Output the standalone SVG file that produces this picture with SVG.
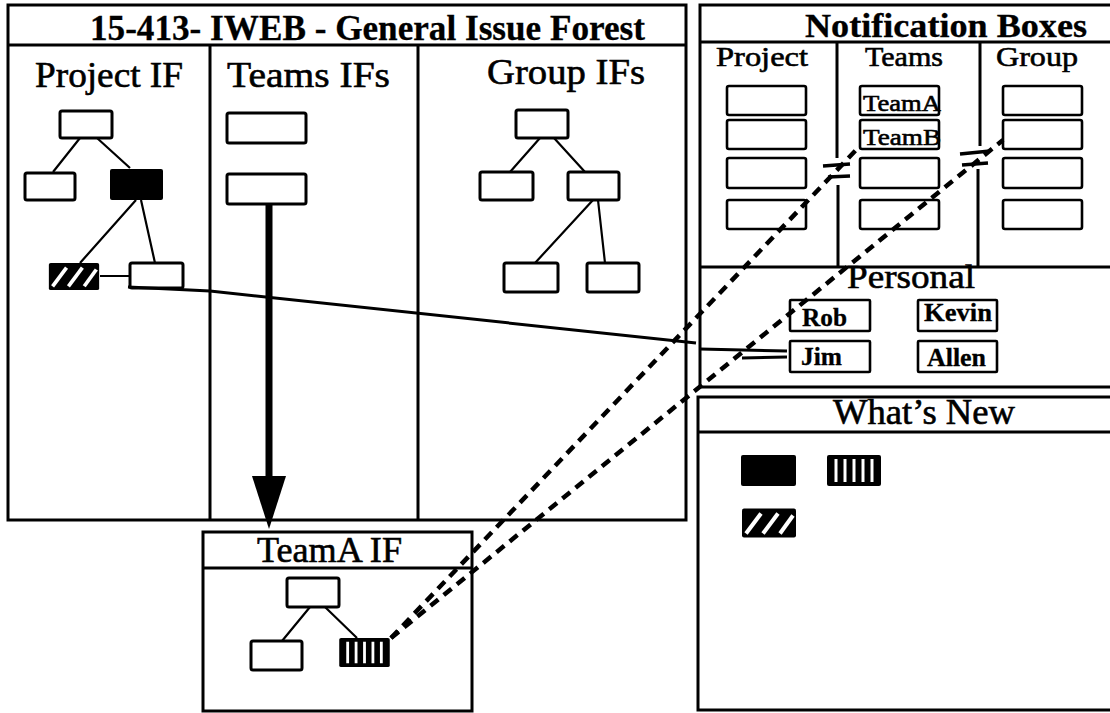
<svg xmlns="http://www.w3.org/2000/svg" width="1110" height="713" viewBox="0 0 1110 713">
<defs>
<style>
.frame{fill:none;stroke:#000;stroke-width:3}
.box{fill:#fff;stroke:#000;stroke-width:3}
.nb{fill:#fff;stroke:#000;stroke-width:2.6}
.edge{fill:none;stroke:#000;stroke-width:2.2}
.t{font-family:"Liberation Serif","Times New Roman",serif;fill:#000;stroke:#000;stroke-width:0.6}
.b{font-weight:bold;stroke-width:0.3}
.dash{fill:none;stroke:#000;stroke-width:4.5;stroke-dasharray:10 7}
.bar{fill:none;stroke:#000;stroke-width:3.5}
</style>
<symbol id="hatch" viewBox="0 0 54 29">
<rect x="0" y="0" width="54" height="29" rx="2" fill="#000"/>
<g stroke="#fff" stroke-width="4"><line x1="4" y1="25" x2="19" y2="5"/><line x1="21" y1="25" x2="36" y2="5"/><line x1="38" y1="25" x2="51" y2="7"/></g>
</symbol>
<symbol id="vstripe" viewBox="0 0 54 31">
<rect x="0" y="0" width="54" height="31" rx="2" fill="#000"/>
<g stroke="#fff" stroke-width="3"><line x1="9" y1="4" x2="9" y2="27"/><line x1="18" y1="4" x2="18" y2="27"/><line x1="27" y1="4" x2="27" y2="27"/><line x1="36" y1="4" x2="36" y2="27"/><line x1="45" y1="4" x2="45" y2="27"/></g>
</symbol>
</defs>
<rect width="1110" height="713" fill="#fff"/>

<!-- General Issue Forest -->
<g id="forest">
<rect class="frame" x="8" y="5" width="678" height="515"/>
<line class="frame" x1="8" y1="45" x2="686" y2="45"/>
<line class="frame" x1="210" y1="45" x2="210" y2="520" stroke-width="2"/>
<line class="frame" x1="418" y1="45" x2="418" y2="520" stroke-width="2"/>
<text class="t b" x="90" y="40" font-size="36" textLength="555" lengthAdjust="spacingAndGlyphs">15-413- IWEB - General Issue Forest</text>
<text class="t" x="35" y="87" font-size="36" textLength="148" lengthAdjust="spacingAndGlyphs">Project IF</text>
<text class="t" x="227" y="87" font-size="36" textLength="163" lengthAdjust="spacingAndGlyphs">Teams IFs</text>
<text class="t" x="487" y="84" font-size="36" textLength="158" lengthAdjust="spacingAndGlyphs">Group IFs</text>
</g>

<!-- Project IF tree -->
<g id="project-tree">
<path class="edge" d="M80,138 L53,172 M97,138 L130,168 M136,200 L80,263 M141,200 L155,263 M100,276 L130,276"/>
<rect class="box" x="60" y="111" width="52" height="27" rx="2"/>
<rect class="box" x="25" y="173" width="50" height="27" rx="2"/>
<rect x="110" y="169" width="53" height="31" rx="2" fill="#000"/>
<use href="#hatch" x="48" y="263" width="52" height="27"/>
<rect class="box" x="130" y="263" width="53" height="25" rx="2"/>
</g>

<!-- Teams IFs -->
<g id="teams-tree">
<rect class="box" x="227" y="113" width="79" height="30" rx="2"/>
<rect class="box" x="227" y="174" width="79" height="30" rx="2"/>
</g>

<!-- Group IFs tree -->
<g id="group-tree">
<path class="edge" d="M540,138 L510,172 M554,138 L585,172 M593,200 L535,263 M598,200 L605,263"/>
<rect class="box" x="516" y="110" width="52" height="28" rx="2"/>
<rect class="box" x="480" y="172" width="53" height="28" rx="2"/>
<rect class="box" x="568" y="172" width="51" height="28" rx="2"/>
<rect class="box" x="504" y="263" width="54" height="29" rx="2"/>
<rect class="box" x="587" y="263" width="52" height="29" rx="2"/>
</g>

<!-- TeamA IF -->
<g id="teamA-if">
<rect class="frame" x="203" y="532" width="269" height="179"/>
<line class="frame" x1="203" y1="568" x2="472" y2="568"/>
<text class="t" x="257" y="562" font-size="36" textLength="145" lengthAdjust="spacingAndGlyphs">TeamA IF</text>
<path class="edge" d="M310,607 L282,641 M325,607 L357,638"/>
<rect class="box" x="287" y="578" width="52" height="29" rx="2"/>
<rect class="box" x="251" y="641" width="51" height="29" rx="2"/>
<use href="#vstripe" x="338" y="638" width="53" height="29"/>
</g>

<!-- Notification Boxes -->
<g id="notification-boxes">
<path class="frame" d="M1112,5 L700,5 L700,387 L1112,387"/>
<line class="frame" x1="700" y1="42" x2="1112" y2="42"/>
<line class="frame" x1="700" y1="267" x2="1112" y2="267"/>
<path class="frame" stroke-width="2" d="M837,42 L837,158 M838,185 L838,267 M980,42 L980,146 M978,169 L978,267"/>
<text class="t b" x="805" y="37" font-size="34" textLength="282" lengthAdjust="spacingAndGlyphs">Notification Boxes</text>
<text class="t" x="716" y="66" font-size="28" textLength="92" lengthAdjust="spacingAndGlyphs">Project</text>
<text class="t" x="865" y="66" font-size="28" textLength="78" lengthAdjust="spacingAndGlyphs">Teams</text>
<text class="t" x="996" y="66" font-size="28" textLength="82" lengthAdjust="spacingAndGlyphs">Group</text>
<rect class="nb" x="727" y="86" width="79" height="29" rx="2"/>
<rect class="nb" x="727" y="120" width="79" height="29" rx="2"/>
<rect class="nb" x="727" y="158" width="79" height="30" rx="2"/>
<rect class="nb" x="727" y="200" width="79" height="29" rx="2"/>
<rect class="nb" x="860" y="86" width="79" height="29" rx="2"/>
<rect class="nb" x="860" y="120" width="79" height="29" rx="2"/>
<rect class="nb" x="860" y="158" width="79" height="30" rx="2"/>
<rect class="nb" x="860" y="200" width="79" height="29" rx="2"/>
<rect class="nb" x="1003" y="86" width="79" height="29" rx="2"/>
<rect class="nb" x="1003" y="120" width="79" height="29" rx="2"/>
<rect class="nb" x="1003" y="158" width="79" height="30" rx="2"/>
<rect class="nb" x="1003" y="200" width="79" height="29" rx="2"/>
<text class="t" x="863" y="111" font-size="23" textLength="78" lengthAdjust="spacingAndGlyphs">TeamA</text>
<text class="t" x="863" y="145" font-size="23" textLength="78" lengthAdjust="spacingAndGlyphs">TeamB</text>
<text class="t" x="847" y="288" font-size="34" textLength="128" lengthAdjust="spacingAndGlyphs">Personal</text>
<rect class="nb" x="790" y="300" width="80" height="31" rx="1"/>
<rect class="nb" x="918" y="300" width="79" height="31" rx="1"/>
<rect class="nb" x="790" y="341" width="80" height="31" rx="1"/>
<rect class="nb" x="918" y="341" width="79" height="31" rx="1"/>
<text class="t b" x="802" y="326" font-size="25" textLength="45" lengthAdjust="spacingAndGlyphs">Rob</text>
<text class="t b" x="924" y="321" font-size="25" textLength="68" lengthAdjust="spacingAndGlyphs">Kevin</text>
<text class="t b" x="801" y="365" font-size="25" textLength="41" lengthAdjust="spacingAndGlyphs">Jim</text>
<text class="t b" x="927" y="366" font-size="25" textLength="59" lengthAdjust="spacingAndGlyphs">Allen</text>
</g>

<!-- What's New -->
<g id="whats-new">
<path class="frame" d="M1112,397 L698,397 L698,710 L1112,710"/>
<line class="frame" x1="698" y1="432" x2="1112" y2="432"/>
<text class="t" x="833" y="424" font-size="35" textLength="182" lengthAdjust="spacingAndGlyphs">What’s New</text>
<rect x="741" y="455" width="55" height="31" rx="2" fill="#000"/>
<use href="#vstripe" x="827" y="455" width="54" height="31"/>
<use href="#hatch" x="742" y="508" width="54" height="30"/>
</g>

<!-- Connectors -->
<g id="connectors">
<line x1="269" y1="204" x2="269" y2="478" stroke="#000" stroke-width="7"/>
<polygon points="252,476 286,476 269,529" fill="#000"/>
<path fill="none" stroke="#000" stroke-width="3" d="M128,287 L210,291 L696,343"/>
<path fill="none" stroke="#000" stroke-width="3" d="M700,349 L787,351 M742,358 L787,357"/>
<line class="dash" x1="391" y1="638" x2="858" y2="148"/>
<line class="dash" x1="391" y1="638" x2="1003" y2="140"/>
<path class="bar" d="M823,166 L850,164 M828,177 L850,176 M960,154 L990,151 M962,165 L988,163"/>
</g>
</svg>
